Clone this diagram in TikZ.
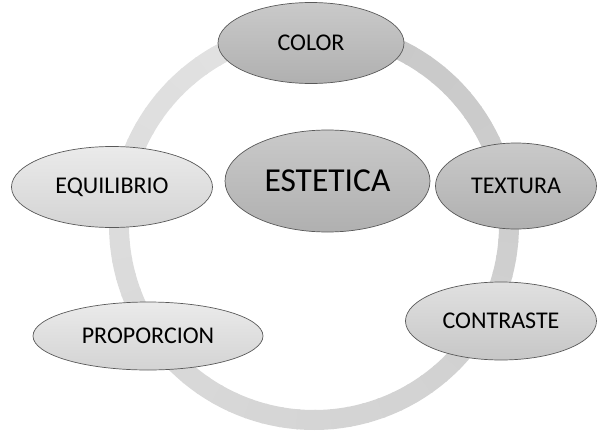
\documentclass[tikz,border=0pt]{standalone}
\usepackage{fontspec}
\setmainfont{Carlito}
\usetikzlibrary{shapes.geometric}
\tikzset{bubble/.style = {ellipse, draw=black!65, line width=0.7pt, inner sep=0,
                          font=\fontsize{24}{28}\selectfont}}
\tikzset{darkbubble/.style = {bubble, top color=black!21, bottom color=black!31}}
\tikzset{lightbubble/.style = {bubble, top color=black!8, bottom color=black!17}}
\tikzset{ring/.style = {line width=20pt, line cap=butt}}

\begin{document}
\begin{tikzpicture}[x=1pt, y=-1pt]
    \useasboundingbox (0,0) rectangle (597,431);

    % ring behind the bubbles, darker as it goes round
    \foreach \v in {90,95,...,445} {
        \pgfmathsetmacro{\lvl}{11+(\v-90)/360*11}
        \draw [ring, black!\lvl!white] (314,225) ++(-\v:195) arc [start angle=-\v, end angle=-\v-5.6, radius=195];
    }

    \node [darkbubble, minimum width=186pt, minimum height=81pt] (color) at (311, 43) {COLOR};
    \node [darkbubble, minimum width=205pt, minimum height=102pt, font=\fontsize{33.5}{38}\selectfont] (estetica) at (327.5, 181) {ESTETICA};
    \node [lightbubble, minimum width=201pt, minimum height=81pt] (equilibrio) at (112, 187) {EQUILIBRIO};
    \node [darkbubble, minimum width=161pt, minimum height=86pt] (textura) at (516, 186) {TEXTURA};
    \node [lightbubble, minimum width=230pt, minimum height=68pt] (proporcion) at (148, 336) {PROPORCION};
    \node [lightbubble, top color=black!12, bottom color=black!22, minimum width=191pt, minimum height=78pt] (contraste) at (501, 321) {CONTRASTE};
\end{tikzpicture}
\end{document}
